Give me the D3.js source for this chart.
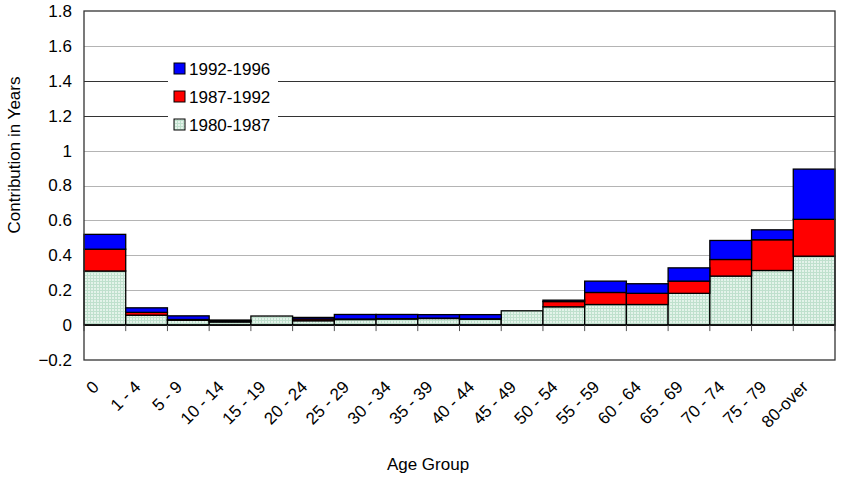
<!DOCTYPE html>
<html>
<head>
<meta charset="utf-8">
<script src="https://cdn.jsdelivr.net/npm/d3@7"></script>
<style>
  body { margin: 0; background: #fff; }
  text { font-family: "Liberation Sans", Arial, sans-serif; }
</style>
</head>
<body>
<div id="chart"></div>
<script>
// data
var ageGroups = ["0", "1 - 4", "5 - 9", "10 - 14", "15 - 19", "20 - 24", "25 - 29", "30 - 34",
                 "35 - 39", "40 - 44", "45 - 49", "50 - 54", "55 - 59", "60 - 64", "65 - 69",
                 "70 - 74", "75 - 79", "80-over"];
var p1980_1987 = [0.310, 0.057, 0.028, 0.018, 0.052, 0.025, 0.032, 0.035, 0.038, 0.034,
                  0.082, 0.105, 0.118, 0.118, 0.182, 0.281, 0.313, 0.395];
var p1987_1992 = [0.125, 0.016, 0.004, 0.005, 0.000, 0.010, 0.003, 0.002, 0.002, 0.002,
                  0.000, 0.030, 0.069, 0.064, 0.070, 0.095, 0.176, 0.211];
var p1992_1996 = [0.085, 0.026, 0.021, 0.006, 0.000, 0.009, 0.026, 0.024, 0.020, 0.024,
                  0.000, 0.008, 0.065, 0.055, 0.076, 0.109, 0.057, 0.288];
var seriesNames = ["1980-1987", "1987-1992", "1992-1996"];
var yTicks = [-0.2, 0, 0.2, 0.4, 0.6, 0.8, 1, 1.2, 1.4, 1.6, 1.8];

var W = 844, H = 478;
var margin = {left: 84, right: 9, top: 11, bottom: 118};
var pw = W - margin.left - margin.right, ph = H - margin.top - margin.bottom;

var svg = d3.select("#chart").append("svg")
    .attr("width", W).attr("height", H);

// hatched light green fill
var defs = svg.append("defs");
var pat = defs.append("pattern")
    .attr("id", "mint")
    .attr("patternUnits", "userSpaceOnUse")
    .attr("width", 3).attr("height", 3);
pat.append("rect").attr("width", 3).attr("height", 3).attr("fill", "#e4f3ea");
pat.append("rect").attr("x", 0).attr("y", 0).attr("width", 3).attr("height", 1).attr("fill", "#bfe0cd");
pat.append("rect").attr("x", 0).attr("y", 0).attr("width", 1).attr("height", 3).attr("fill", "#bfe0cd");

var g = svg.append("g").attr("transform", "translate(" + margin.left + "," + margin.top + ")");

var x = d3.scaleBand().domain(ageGroups).range([0, pw]).padding(0);
var y = d3.scaleLinear().domain([-0.2, 1.8]).range([ph, 0]);

// gridlines
g.selectAll("line.grid")
    .data(yTicks.filter(function(d) { return d > -0.2 && d < 1.8 && d !== 0; }))
    .enter().append("line")
    .attr("class", "grid")
    .attr("x1", 0).attr("x2", pw)
    .attr("y1", function(d) { return Math.round(y(d)) + 0.5; })
    .attr("y2", function(d) { return Math.round(y(d)) + 0.5; })
    .attr("stroke", function(d) { return (d === 1.2 || d === 1.4) ? "#333" : "#b4b4b4"; })
    .attr("stroke-width", 1);

// stacked bars
var table = ageGroups.map(function(a, i) {
    return {age: a, "1980-1987": p1980_1987[i], "1987-1992": p1987_1992[i], "1992-1996": p1992_1996[i]};
});
var stack = d3.stack().keys(seriesNames)(table);
var fills = {"1980-1987": "url(#mint)", "1987-1992": "#ff0000", "1992-1996": "#0000ff"};

g.selectAll("g.layer")
    .data(stack)
    .enter().append("g")
    .attr("class", "layer")
    .attr("fill", function(d) { return fills[d.key]; })
    .selectAll("rect")
    .data(function(d) { return d; })
    .enter().append("rect")
    .filter(function(d) { return d[1] - d[0] > 0; })
    .attr("x", function(d) { return x(d.data.age); })
    .attr("y", function(d) { return y(d[1]); })
    .attr("width", x.bandwidth())
    .attr("height", function(d) { return y(d[0]) - y(d[1]); })
    .attr("stroke", "#000")
    .attr("stroke-width", 1.3);

// zero line and category ticks
g.append("line")
    .attr("x1", 0).attr("x2", pw)
    .attr("y1", y(0)).attr("y2", y(0))
    .attr("stroke", "#000").attr("stroke-width", 1.5);
g.selectAll("line.xtick")
    .data(d3.range(ageGroups.length + 1))
    .enter().append("line")
    .attr("class", "xtick")
    .attr("x1", function(i) { return i * x.step(); })
    .attr("x2", function(i) { return i * x.step(); })
    .attr("y1", y(0)).attr("y2", y(0) + 6)
    .attr("stroke", "#555").attr("stroke-width", 1);

// frame
g.append("rect")
    .attr("x", 0).attr("y", 0).attr("width", pw).attr("height", ph)
    .attr("fill", "none").attr("stroke", "#333").attr("stroke-width", 1.3);

// y labels
var yAxis = d3.axisLeft(y).tickValues(yTicks).tickSize(0).tickPadding(12)
    .tickFormat(function(d) { return d3.format("")(+d.toFixed(1)); });
var ya = g.append("g").call(yAxis);
ya.select(".domain").remove();
ya.selectAll("text").attr("font-size", 17).attr("fill", "#000")
    .style("font-family", "'Liberation Sans', Arial, sans-serif");

// x labels
g.selectAll("text.xlab")
    .data(ageGroups)
    .enter().append("text")
    .attr("class", "xlab")
    .attr("transform", function(d) {
        return "translate(" + (x(d) + x.bandwidth() / 2 - 5) + "," + (ph + 28) + ") rotate(-45)";
    })
    .attr("text-anchor", "end")
    .attr("font-size", 17)
    .text(function(d) { return d; });

// axis titles
svg.append("text")
    .attr("transform", "translate(20,155) rotate(-90)")
    .attr("text-anchor", "middle")
    .attr("font-size", 17)
    .text("Contribution in Years");
svg.append("text")
    .attr("x", 428).attr("y", 470)
    .attr("text-anchor", "middle")
    .attr("font-size", 17)
    .text("Age Group");

// legend
var legend = svg.append("g").attr("transform", "translate(168,55)");
legend.append("rect").attr("width", 110).attr("height", 82).attr("fill", "#fff");
var legendItems = ["1992-1996", "1987-1992", "1980-1987"];
var li = legend.selectAll("g.item")
    .data(legendItems)
    .enter().append("g")
    .attr("class", "item")
    .attr("transform", function(d, i) { return "translate(0," + (i * 28) + ")"; });
li.append("rect")
    .attr("x", 6).attr("y", 8).attr("width", 11).attr("height", 11)
    .attr("fill", function(d) { return fills[d]; })
    .attr("stroke", "#000").attr("stroke-width", 1);
li.append("text")
    .attr("x", 21).attr("y", 20)
    .attr("font-size", 17)
    .text(function(d) { return d; });
</script>
</body>
</html>
